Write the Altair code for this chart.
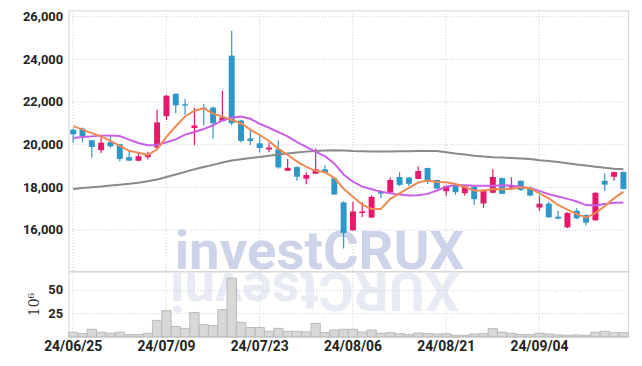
import altair as alt
import pandas as pd

dates = ["24/06/25", "24/06/26", "24/06/27", "24/06/28", "24/07/01", "24/07/02", "24/07/03", "24/07/04",
         "24/07/05", "24/07/08", "24/07/09", "24/07/10", "24/07/11", "24/07/12", "24/07/15", "24/07/16",
         "24/07/17", "24/07/18", "24/07/19", "24/07/22", "24/07/23", "24/07/24", "24/07/25", "24/07/26",
         "24/07/29", "24/07/30", "24/07/31", "24/08/01", "24/08/02", "24/08/05", "24/08/06", "24/08/07",
         "24/08/08", "24/08/09", "24/08/12", "24/08/13", "24/08/14", "24/08/16", "24/08/19", "24/08/20",
         "24/08/21", "24/08/22", "24/08/23", "24/08/26", "24/08/27", "24/08/28", "24/08/29", "24/08/30",
         "24/09/02", "24/09/03", "24/09/04", "24/09/05", "24/09/06", "24/09/09", "24/09/10", "24/09/11",
         "24/09/12", "24/09/13", "24/09/19", "24/09/20"]

opens = [20700, 20750, 20200, 19735, 20120, 20015, 19410, 19240, 19410, 19860,
         21330, 22380, 21890, 20780, 21730, 21735, 21100, 24170, 21130, 20290,
         20060, 19770, 19780, 18770, 18945, 18400, 18635, 18840, 18420, 17290,
         15980, 16790, 16580, 17780, 17750, 18480, 18450, 18390, 18900, 18340,
         17815, 18060, 17720, 18030, 17240, 17740, 18430, 17985, 18300, 17985,
         17050, 17230, 16620, 16120, 16900, 16700, 16450, 18300, 18490, 18710]
highs = [20750, 20800, 20220, 20460, 20430, 20030, 19700, 19630, 19660, 21630,
         22330, 22390, 22140, 21720, 21900, 21780, 22510, 25340, 21150, 20720,
         20385, 20070, 20200, 19320, 18990, 18700, 19815, 19030, 18440, 17340,
         17320, 17300, 17610, 17870, 18460, 18700, 18480, 18980, 18920, 18360,
         18080, 18100, 18110, 18060, 17900, 18840, 18460, 18465, 18320, 18030,
         17610, 17330, 16900, 16830, 17010, 16730, 17760, 18650, 18740, 18740]
lows = [20100, 20100, 19400, 19610, 19860, 19210, 19230, 19220, 19300, 19780,
        21160, 21470, 21400, 19970, 20900, 20280, 21090, 20900, 20110, 19980,
        19630, 19640, 18870, 18760, 18310, 18140, 18620, 18660, 17640, 15130,
        15970, 16610, 16560, 17490, 17740, 18060, 18060, 18380, 18150, 17920,
        17600, 17640, 17600, 17180, 17030, 17720, 17680, 17950, 17830, 17580,
        16890, 16580, 16480, 16080, 16500, 16210, 16440, 17810, 18300, 17910]
closes = [20480, 20400, 19890, 20090, 19920, 19330, 19250, 19455, 19550, 21040,
          22290, 21840, 21830, 20900, 21650, 21000, 21270, 21000, 20170, 20170,
          19840, 19860, 18930, 18910, 18495, 18575, 18840, 18680, 17660, 15860,
          16865, 16865, 17550, 17700, 18340, 18110, 18160, 18760, 18250, 17940,
          18060, 17770, 18030, 17440, 17880, 18480, 17690, 18110, 17870, 17610,
          17230, 16590, 16530, 16800, 16545, 16340, 17740, 18120, 18710, 17920]

ma_short = [20865, 20700, 20540, 20385, 20170, 19940, 19710, 19620, 19520, 19780,
            20360, 20860, 21320, 21585, 21700, 21450, 21310, 21150, 21000, 20700,
            20450, 20170, 19800, 19520, 19200, 18955, 18770, 18710, 18440, 17930,
            17560, 17180, 16980, 16980, 17460, 17710, 17970, 18220, 18320, 18250,
            18230, 18150, 18010, 17850, 17840, 17920, 17905, 17920, 18000, 17950,
            17710, 17480, 17170, 16950, 16740, 16580, 16790, 17110, 17490, 17780]
ma_mid = [20310, 20355, 20385, 20420, 20430, 20400, 20230, 20075, 19970, 19985,
          20110, 20245, 20465, 20590, 20730, 20900, 21130, 21255, 21315, 21210,
          20975, 20790, 20585, 20385, 20120, 19890, 19655, 19455, 19115, 18600,
          18260, 18030, 17905, 17795, 17720, 17655, 17610, 17625, 17690, 17850,
          18030, 18110, 18090, 18075, 18075, 18075, 18090, 18075, 18030, 17955,
          17830, 17675, 17565, 17455, 17330, 17165, 17150, 17210, 17270, 17285]
ma_long = [17920, 17960, 18000, 18040, 18080, 18120, 18160, 18210, 18280, 18360,
           18480, 18600, 18720, 18840, 18950, 19050, 19160, 19250, 19310, 19370,
           19420, 19480, 19530, 19580, 19630, 19670, 19700, 19720, 19730, 19720,
           19700, 19690, 19680, 19680, 19680, 19690, 19690, 19700, 19700, 19700,
           19640, 19580, 19530, 19480, 19440, 19410, 19390, 19370, 19350, 19320,
           19270, 19230, 19180, 19130, 19070, 19020, 18960, 18910, 18870, 18840]
volume = [4.8, 3.4, 8, 4.8, 3.7, 4.8, 2.3, 2.3, 3.7, 17.5,
          28, 11, 9, 26, 13, 12, 29, 62.7, 15.4, 10,
          10, 5.8, 9, 5.8, 5.8, 5.2, 14.3, 4.4, 7.2, 8,
          8, 5, 7.2, 3.7, 4.4, 3.3, 2.5, 4, 3.3, 3,
          3.3, 1.6, 1.6, 3, 3.3, 8.7, 5, 3.7, 2.3, 2.3,
          3.7, 3, 2, 1.6, 2, 1.6, 4.8, 5.8, 4.4, 4.4]

tick_dates = [dates[i] for i in (0, 10, 20, 30, 40, 50)]
price_ticks = [16000, 18000, 20000, 22000, 24000, 26000]
vol_ticks = [25, 50]
watermark = "investCRUX"

df = pd.DataFrame({"d": dates, "o": opens, "h": highs, "l": lows, "c": closes,
                   "m5": ma_short, "m20": ma_mid, "m60": ma_long, "v": volume})

UP = "#e5186c"
DOWN = "#2f96c8"
GRID = "#c6c9de"
FONT = "Roboto"
W = 564

xscale = alt.Scale(domain=dates, paddingInner=0, paddingOuter=0)
yscale = alt.Scale(domain=[14060, 26290], nice=False, zero=False)
vscale = alt.Scale(domain=[0, 70], nice=False)

x_axis_top = alt.Axis(values=tick_dates, labels=False, ticks=False, domain=False, title=None,
                      grid=True, bandPosition=0.5)
y_axis_top = alt.Axis(values=price_ticks, format=",.0f", formatType="number", grid=True,
                      labelPadding=6, title=None)


def xp():
    return alt.X("d:N", scale=xscale, axis=x_axis_top, title=None)


def yp(field):
    return alt.Y(field, scale=yscale, axis=y_axis_top, title=None)


base = alt.Chart(df)
color = alt.condition("datum.c >= datum.o", alt.value(UP), alt.value(DOWN))

wm = alt.Chart(pd.DataFrame({"t": [watermark]})).mark_text(
    align="left", baseline="alphabetic", font="Roboto", fontWeight="bold", fontSize=55,
    color="#cdd3e8").encode(text="t:N", x=alt.value(107), y=alt.value(261))

wick = base.mark_rule(strokeWidth=1.2).encode(x=xp(), y=yp("l:Q"), y2="h:Q", color=color)
body = base.mark_bar(size=6).encode(x=xp(), y=yp("o:Q"), y2="c:Q", color=color)
l_long = base.mark_line(color="#8a8a8a", strokeWidth=2).encode(x=xp(), y=yp("m60:Q"))
l_mid = base.mark_line(color="#c95fe6", strokeWidth=2).encode(x=xp(), y=yp("m20:Q"))
l_short = base.mark_line(color="#ef8b52", strokeWidth=2).encode(x=xp(), y=yp("m5:Q"))

top = alt.layer(wm, wick, body, l_long, l_mid, l_short).properties(width=W, height=263)

refl = alt.Chart(pd.DataFrame({"t": [watermark[::-1]]})).mark_text(
    align="left", baseline="alphabetic", font="Roboto", fontWeight="bold", fontSize=55, angle=180,
    color="#cdd3e8", opacity=0.45).encode(text="t:N", x=alt.value(394), y=alt.value(2))

vol = base.mark_bar(fill="#d8d8d8", stroke="#b9b9b9", strokeWidth=1).encode(
    x=alt.X("d:N", scale=xscale,
            axis=alt.Axis(values=tick_dates, ticks=False, domain=False, title=None, labelAngle=0,
                          grid=True, bandPosition=0.5, labelFontSize=14, labelPadding=3)),
    y=alt.Y("v:Q", scale=vscale,
            axis=alt.Axis(values=vol_ticks, grid=True, labelPadding=6, title="10⁶",
                          titleFont="DejaVu Serif", titleFontSize=14, titleFontWeight="normal",
                          titleColor="#333", titlePadding=6)))

bottom = alt.layer(refl, vol).properties(width=W, height=66)

chart = alt.vconcat(top, bottom, spacing=0, bounds="flush").properties(
    padding={"left": 14, "top": 0, "right": 5, "bottom": 5}
).configure_view(stroke="#d2d2d2").configure_axis(
    labelFont=FONT, labelFontSize=13, labelColor="#222", labelFontWeight="bold",
    gridColor=GRID, gridDash=[1, 2], gridWidth=1, ticks=False, domain=False
)

chart.save("out.html", embed_options={"renderer": "svg", "actions": False})
